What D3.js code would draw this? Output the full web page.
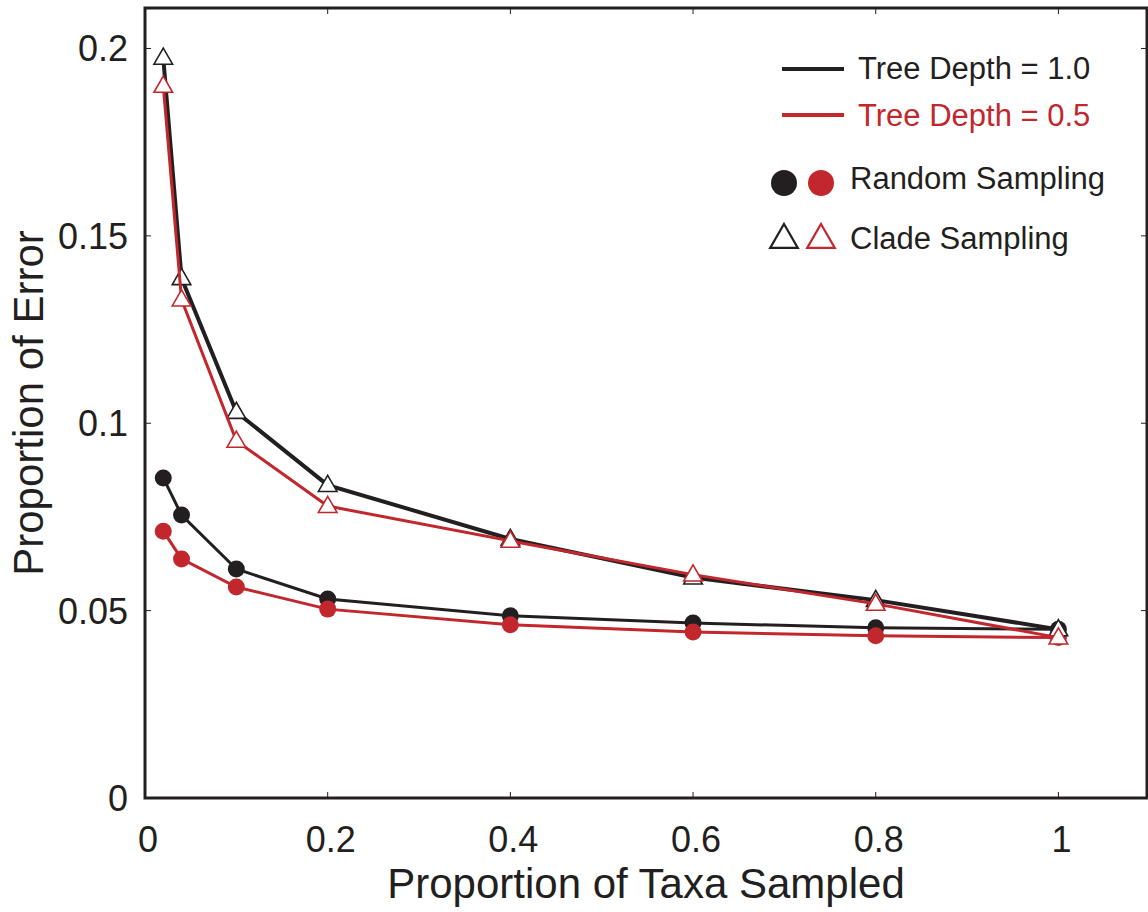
<!DOCTYPE html>
<html>
<head>
<meta charset="utf-8">
<script src="https://cdn.jsdelivr.net/npm/d3@7"></script>
<style>
  body { margin: 0; background: #fff; }
  svg text { font-family: "Liberation Sans", Arial, sans-serif; fill: #231f20; }
</style>
</head>
<body>
<svg width="1148" height="912"></svg>
<script>
var svg = d3.select("svg");

// proportion of taxa sampled
var taxa = [0.02, 0.04, 0.1, 0.2, 0.4, 0.6, 0.8, 1.0];
// proportion of error
var randomDepth1  = [0.0854, 0.0755, 0.0611, 0.0531, 0.0486, 0.0467, 0.0454, 0.0450];
var randomDepth05 = [0.0712, 0.0638, 0.0563, 0.0504, 0.0462, 0.0443, 0.0433, 0.0428];
var cladeDepth1   = [0.1975, 0.1387, 0.1030, 0.0835, 0.0691, 0.0588, 0.0528, 0.0450];
var cladeDepth05  = [0.1900, 0.1330, 0.0953, 0.0779, 0.0686, 0.0596, 0.0518, 0.0428];

var xTicks = [0, 0.2, 0.4, 0.6, 0.8, 1];
var yTicks = [0, 0.05, 0.1, 0.15, 0.2];

var black = "#231f20", red = "#c1272d";

var pLeft = 145, pRight = 1147, pTop = 8, pBottom = 798;

var x = d3.scaleLinear().domain([0, 1.097]).range([pLeft, pRight]);
var y = d3.scaleLinear().domain([0, 0.2108]).range([pBottom, pTop]);

var line = d3.line()
    .x(function(d, i) { return x(taxa[i]); })
    .y(function(d) { return y(d); });

// ticks (inward, mirrored)
var ticks = svg.append("g").attr("stroke", black).attr("stroke-width", 1);
xTicks.forEach(function(t) {
  ticks.append("line").attr("x1", x(t)).attr("x2", x(t)).attr("y1", pBottom).attr("y2", pBottom - 6);
  ticks.append("line").attr("x1", x(t)).attr("x2", x(t)).attr("y1", pTop).attr("y2", pTop + 6);
});
yTicks.forEach(function(t) {
  ticks.append("line").attr("x1", pLeft).attr("x2", pLeft + 6).attr("y1", y(t)).attr("y2", y(t));
  ticks.append("line").attr("x1", pRight).attr("x2", pRight - 6).attr("y1", y(t)).attr("y2", y(t));
});

// frame
svg.append("rect")
    .attr("x", pLeft).attr("y", pTop)
    .attr("width", pRight - pLeft).attr("height", pBottom - pTop)
    .attr("fill", "none").attr("stroke", black).attr("stroke-width", 3);

// tick labels
svg.append("g").selectAll("text")
  .data(xTicks)
  .enter().append("text")
    .attr("x", function(d) { return x(d) + 3; })
    .attr("y", 852)
    .attr("text-anchor", "middle")
    .attr("font-size", 36)
    .text(function(d) { return d; });

svg.append("g").selectAll("text")
  .data(yTicks)
  .enter().append("text")
    .attr("x", 128)
    .attr("y", function(d) { return y(d) + 13; })
    .attr("text-anchor", "end")
    .attr("font-size", 36)
    .text(function(d) { return d; });

// axis titles
svg.append("text")
    .attr("x", (pLeft + pRight) / 2)
    .attr("y", 898)
    .attr("text-anchor", "middle")
    .attr("font-size", 42)
    .text("Proportion of Taxa Sampled");

svg.append("text")
    .attr("transform", "translate(43,403) rotate(-90)")
    .attr("text-anchor", "middle")
    .attr("font-size", 42)
    .text("Proportion of Error");

var tri = d3.symbol().type(d3.symbolTriangle).size(150);

function drawSeries(vals, color, width, kind) {
  svg.append("path")
      .datum(vals)
      .attr("d", line)
      .attr("fill", "none")
      .attr("stroke", color)
      .attr("stroke-width", width);
  var g = svg.append("g");
  if (kind == "circle") {
    g.selectAll("circle")
      .data(vals)
      .enter().append("circle")
        .attr("cx", function(d, i) { return x(taxa[i]); })
        .attr("cy", function(d) { return y(d); })
        .attr("r", 8.5)
        .attr("fill", color);
  } else {
    g.selectAll("path")
      .data(vals)
      .enter().append("path")
        .attr("d", tri)
        .attr("transform", function(d, i) { return "translate(" + x(taxa[i]) + "," + (y(d) + 1) + ")"; })
        .attr("fill", "#fff")
        .attr("stroke", color)
        .attr("stroke-width", 1.6);
  }
}

drawSeries(randomDepth1, black, 3, "circle");
drawSeries(randomDepth05, red, 3, "circle");
drawSeries(cladeDepth1, black, 4, "triangle");
drawSeries(cladeDepth05, red, 3, "triangle");

// legend
var lg = svg.append("g");
lg.append("line").attr("x1", 782).attr("x2", 844).attr("y1", 69).attr("y2", 69)
    .attr("stroke", black).attr("stroke-width", 4);
lg.append("text").attr("x", 858).attr("y", 79).attr("font-size", 31).text("Tree Depth = 1.0");
lg.append("line").attr("x1", 782).attr("x2", 844).attr("y1", 115).attr("y2", 115)
    .attr("stroke", red).attr("stroke-width", 4);
lg.append("text").attr("x", 858).attr("y", 126).attr("font-size", 31)
    .style("fill", red).text("Tree Depth = 0.5");

lg.append("circle").attr("cx", 784).attr("cy", 183).attr("r", 13).attr("fill", black);
lg.append("circle").attr("cx", 821).attr("cy", 183).attr("r", 13).attr("fill", red);
lg.append("text").attr("x", 850).attr("y", 189).attr("font-size", 31).text("Random Sampling");

var legTri = d3.symbol().type(d3.symbolTriangle).size(330);
lg.append("path").attr("d", legTri).attr("transform", "translate(784,240)")
    .attr("fill", "#fff").attr("stroke", black).attr("stroke-width", 2.2);
lg.append("path").attr("d", legTri).attr("transform", "translate(821,240)")
    .attr("fill", "#fff").attr("stroke", red).attr("stroke-width", 2.2);
lg.append("text").attr("x", 850).attr("y", 249).attr("font-size", 31).text("Clade Sampling");
</script>
</body>
</html>
